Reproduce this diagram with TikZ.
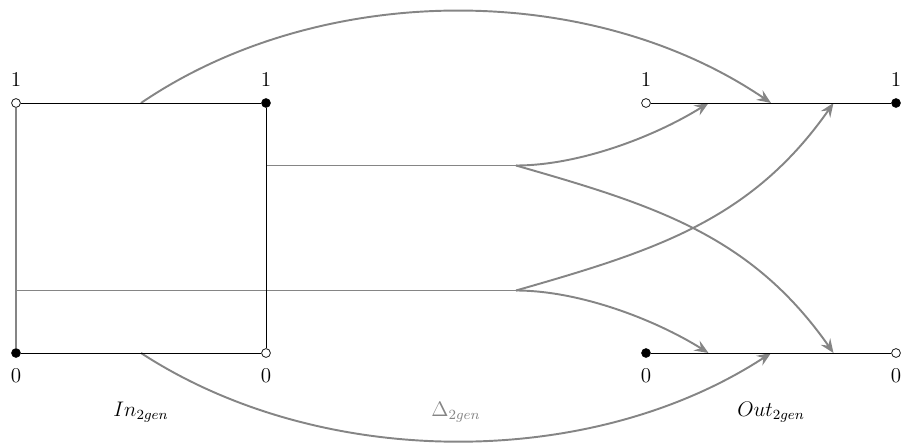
\documentclass[tikz,border=0pt]{standalone}
\usepackage{amsmath}
\usepackage{tikz}
\usetikzlibrary{arrows.meta,positioning,calc}
\definecolor{gencol}{HTML}{858585}

\begin{document}
\begin{tikzpicture}[font=\large,
  pt/.style={circle,draw,inner sep=0pt,minimum size=5pt},
  opn/.style={pt,fill=white},
  cls/.style={pt,fill=black},
  edge/.style={black,line width=0.5pt},
  gen/.style={gencol,line width=1.1pt},
  ar/.style={gen,-{Stealth[length=2.8mm,width=2.3mm,inset=1mm]}},
  up/.style={label={[label distance=3pt]above:#1}},
  dn/.style={label={[label distance=3pt]below:#1}},
]
\useasboundingbox (-0.32,-1.82) rectangle (17.72,7.06);

% free ends of the generator paths
\coordinate (a1) at (2.5,5);
\coordinate (a0) at (2.5,0);
\coordinate (s1) at (5,3.75);
\coordinate (s0) at (0,1.25);
\coordinate (f1) at (10,3.75);
\coordinate (f0) at (10,1.25);
\coordinate (t1) at (13.85,5);
\coordinate (t2) at (15.1,5);
\coordinate (t3) at (16.35,5);
\coordinate (b1) at (13.85,0);
\coordinate (b2) at (15.1,0);
\coordinate (b3) at (16.35,0);

% generator paths
\draw[gen] (s1) -- (f1);
\draw[gen] (s0) -- (f0);
\draw[ar] (f1) to[out=0,in=212,looseness=0.8] (t1);
\draw[ar] (f1) to[out=-16,in=125] (b3);
\draw[ar] (f0) to[out=16,in=235] (t3);
\draw[ar] (f0) to[out=0,in=148,looseness=0.8] (b1);
\draw[ar] (a1) .. controls (6.1,7.45) and (11.5,7.45) .. (t2);
\draw[ar] (a0) .. controls (6.1,-2.35) and (11.5,-2.35) .. (b2);

% In
\node[opn,up=$1$] (i1) at (0,5) {};
\node[cls,up=$1$] (i2) at (5,5) {};
\node[cls,dn=$0$] (i3) at (0,0) {};
\node[opn,dn=$0$] (i4) at (5,0) {};
\draw[edge] (i1) -- (i2);
\draw[edge] (i3) -- (i4);
\draw[edge] (i2) -- (i4);
\draw[gen,line width=0.6pt] (i1) -- (i3);

% Out
\node[opn,up=$1$] (o1) at (12.6,5) {};
\node[cls,up=$1$] (o2) at (17.6,5) {};
\node[cls,dn=$0$] (o3) at (12.6,0) {};
\node[opn,dn=$0$] (o4) at (17.6,0) {};
\draw[edge] (o1) -- (o2);
\draw[edge] (o3) -- (o4);

\node (inlab) at (2.5,-1.18) {$In_{2gen}$};
\node[text=gencol] (dlab) at (8.8,-1.18) {$\Delta_{2gen}$};
\node (outlab) at (15.1,-1.18) {$Out_{2gen}$};
\end{tikzpicture}
\end{document}
